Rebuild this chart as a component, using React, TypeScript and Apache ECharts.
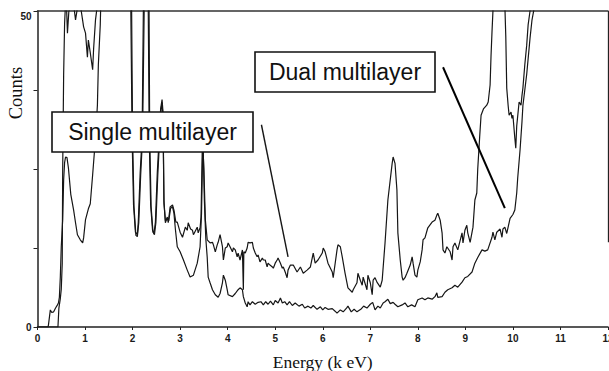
import React, { useEffect, useRef } from "react";
import * as echarts from "echarts";

// Upper-background spectrum ("Single multilayer")
const singleEnergy = [
  0, 0.43, 0.45, 0.48, 0.5, 0.52, 0.53, 0.55, 0.57, 0.6,
  0.63, 0.66, 0.69, 0.73, 0.76, 0.8, 0.84, 0.9, 0.97, 1.01,
  1.05, 1.07, 1.11, 1.16, 1.18, 1.22, 1.26, 1.3, 1.95, 1.99,
  2.02, 2.06, 2.1, 2.12, 2.16, 2.2, 2.24, 2.32, 2.35, 2.38,
  2.42, 2.45, 2.48, 2.52, 2.56, 2.59, 2.62, 2.64, 2.66, 2.69,
  2.73, 2.75, 2.79, 2.84, 2.87, 2.91, 2.94, 3.0, 3.05, 3.11,
  3.15, 3.17, 3.22, 3.26, 3.28, 3.32, 3.36, 3.38, 3.42, 3.44,
  3.47, 3.5, 3.53, 3.57, 3.63, 3.68, 3.7, 3.74, 3.78, 3.8,
  3.84, 3.89, 3.91, 3.95, 3.99, 4.01, 4.05, 4.1, 4.12, 4.16,
  4.2, 4.22, 4.26, 4.31, 4.33, 4.34, 4.37, 4.41, 4.43, 4.47,
  4.52, 4.54, 4.58, 4.62, 4.64, 4.68, 4.73, 4.75, 4.79, 4.83,
  4.85, 4.89, 4.94, 4.96, 5.0, 5.04, 5.06, 5.11, 5.15, 5.17,
  5.21, 5.25, 5.27, 5.32, 5.38, 5.46, 5.53, 5.59, 5.67, 5.74,
  5.8, 5.84, 5.9, 5.99, 6.01, 6.05, 6.11, 6.2, 6.22, 6.3,
  6.32, 6.37, 6.41, 6.47, 6.53, 6.62, 6.64, 6.72, 6.74, 6.79,
  6.83, 6.85, 6.93, 6.95, 7.0, 7.04, 7.06, 7.1, 7.14, 7.21,
  7.25, 7.31, 7.37, 7.46, 7.48, 7.52, 7.56, 7.58, 7.63, 7.67,
  7.69, 7.73, 7.77, 7.84, 7.88, 7.9, 7.94, 7.98, 8.0, 8.05,
  8.09, 8.11, 8.15, 8.21, 8.3, 8.36, 8.4, 8.42, 8.47, 8.51,
  8.53, 8.57, 8.61, 8.68, 8.72, 8.74, 8.78, 8.84, 8.93, 8.95,
  8.99, 9.03, 9.05, 9.1, 9.16, 9.2, 9.24, 9.26, 9.3, 9.33,
  9.38, 9.45, 9.48, 9.52, 9.54, 9.56, 9.58, 9.62, 9.75, 9.81,
  9.83, 9.85, 9.87, 9.9, 9.92, 9.96, 9.98, 10.0, 10.04, 10.06,
  10.08, 10.13, 10.17, 10.19, 10.21, 10.25, 10.29, 10.32, 10.36, 10.4,
  10.5,
];
const singleCounts = [
  0, 0, 3, 4.5, 6, 10, 25, 40, 48, 53,
  46.5, 50, 50.5, 52, 51, 48.6, 50.5, 51, 47.5, 46.5,
  42.7, 45.4, 43.4, 40.7, 44, 48.6, 51, 60, 60, 30,
  19.3, 15, 14.6, 16.6, 24.5, 30, 60, 60, 30, 19.3,
  15.3, 14.8, 16.6, 24.5, 30, 34.5, 36, 34, 20, 16.5,
  17.4, 16.5, 19.0, 19.3, 18.5, 16.6, 16.6, 15.0, 14.2, 15.8,
  15.3, 16.5, 15.5, 15.3, 14.6, 15.2, 15.8, 14.9, 15.7, 17.4,
  30, 25, 17, 13.8, 13.3, 13.4, 13.0, 11.9, 13.0, 13.4,
  14.6, 12.7, 10.6, 12.5, 12.7, 13.3, 12.7, 11.9, 12.5, 12.2,
  11.1, 11.7, 10.6, 12.2, 5.9, 11.9, 11.7, 12.5, 13.4, 13.3,
  13.4, 12.5, 11.7, 11.1, 11.4, 10.3, 10.9, 10.6, 10.6, 9.5,
  10.1, 9.8, 9.5, 9.3, 10.1, 10.6, 10.9, 10.1, 9.3, 9.5,
  8.7, 7.8, 9.0, 9.8, 9.8, 8.7, 9.5, 8.5, 9.0, 9.5,
  11.7, 10.1, 10.6, 11.7, 12.5, 11.9, 10.1, 8.7, 7.8, 12.2,
  13.0, 12.7, 11.1, 8.5, 6.2, 5.5, 5.9, 7.0, 8.5, 7.4,
  6.6, 7.9, 5.9, 8.2, 7.0, 5.1, 7.4, 7.8, 7.1, 6.3,
  7.4, 13.3, 20.1, 25.9, 26.9, 25.9, 21.7, 14.9, 10.6, 7.9,
  7.4, 7.8, 8.5, 9.8, 11.1, 10.1, 8.2, 7.9, 9.0, 10.3,
  12.2, 13.8, 14.1, 15.7, 16.6, 16.9, 17.7, 18.0, 16.9, 14.9,
  12.2, 11.7, 12.7, 11.9, 10.6, 12.7, 13.3, 12.2, 14.9, 13.3,
  15.3, 16.1, 14.9, 13.4, 15.8, 20.1, 21.2, 25, 30, 33.5,
  34.5, 35.1, 35.6, 38.3, 43, 46.7, 50, 56, 60, 56,
  51, 46, 37.8, 35, 33.5, 34, 33, 33.5, 29.9, 28.3,
  31.8, 35.6, 35.1, 36.6, 37.8, 41.5, 44.6, 47.8, 50, 56,
  60,
];

// Lower-background spectrum ("Dual multilayer")
const dualEnergy = [
  0, 0.22, 0.23, 0.27, 0.3, 0.34, 0.38, 0.42, 0.44, 0.46,
  0.48, 0.5, 0.53, 0.55, 0.57, 0.59, 0.62, 0.65, 0.7, 0.76,
  0.8, 0.84, 0.9, 0.95, 0.97, 1.01, 1.07, 1.11, 1.16, 1.22,
  1.26, 1.28, 1.32, 1.36, 1.97, 2.0, 2.03, 2.07, 2.1, 2.13,
  2.17, 2.21, 2.26, 2.34, 2.36, 2.39, 2.43, 2.46, 2.49, 2.53,
  2.57, 2.6, 2.62, 2.64, 2.66, 2.69, 2.73, 2.76, 2.8, 2.84,
  2.87, 2.9, 2.94, 3.0, 3.07, 3.15, 3.21, 3.28, 3.36, 3.42,
  3.45, 3.48, 3.51, 3.54, 3.57, 3.59, 3.63, 3.68, 3.74, 3.8,
  3.84, 3.89, 3.91, 3.95, 3.99, 4.01, 4.1, 4.16, 4.22, 4.26,
  4.31, 4.33, 4.37, 4.41, 4.43, 4.47, 4.52, 4.58, 4.64, 4.7,
  4.75, 4.8, 4.85, 4.9, 4.96, 5.0, 5.06, 5.11, 5.15, 5.2,
  5.25, 5.3, 5.36, 5.42, 5.5, 5.57, 5.62, 5.69, 5.75, 5.8,
  5.88, 5.95, 6.0, 6.05, 6.11, 6.2, 6.26, 6.3, 6.37, 6.43,
  6.5, 6.53, 6.6, 6.66, 6.72, 6.8, 6.86, 6.93, 7.0, 7.05,
  7.1, 7.16, 7.21, 7.27, 7.31, 7.37, 7.42, 7.48, 7.52, 7.58,
  7.67, 7.73, 7.79, 7.87, 7.94, 8.0, 8.09, 8.15, 8.21, 8.3,
  8.36, 8.4, 8.42, 8.51, 8.57, 8.63, 8.72, 8.78, 8.84, 8.93,
  8.99, 9.05, 9.14, 9.2, 9.26, 9.35, 9.41, 9.47, 9.56, 9.58,
  9.62, 9.66, 9.73, 9.77, 9.79, 9.83, 9.87, 9.94, 10.0, 10.04,
  10.08, 10.1, 10.15, 10.19, 10.21, 10.29, 10.36, 10.4, 10.46, 10.55,
];
const dualCounts = [
  0, 0, 0.3, 2.7, 2.3, 2.4, 3.0, 3.5, 3.8, 4.7,
  7.9, 12.7, 17, 23.3, 26, 26.9, 26.8, 25.2, 21, 18.5,
  16.5, 14.6, 13.8, 13.3, 14.1, 17.0, 18.7, 19.5, 24.1, 29.9,
  35.1, 41.5, 47.8, 60, 60, 30, 19, 14.5, 14.3, 16.5,
  24, 30, 60, 60, 30, 19, 15, 14.6, 16.5, 24,
  30, 34.5, 35.5, 33, 19.5, 16.8, 17.2, 16.8, 18.8, 19.0,
  18.0, 15.5, 12.7, 11.9, 10.6, 9.0, 7.9, 8.2, 10.1, 12.7,
  18, 30, 20, 14, 11, 7.9, 7.0, 5.9, 5.1, 4.7,
  5.3, 7.0, 8.2, 7.4, 5.9, 5.1, 4.8, 5.3, 5.9, 6.2,
  5.9, 4.8, 3.8, 3.2, 4.0, 3.5, 4.0, 3.6, 3.9, 4.0,
  3.5, 4.0, 3.6, 4.1, 3.5, 4.2, 3.8, 4.6, 3.8, 4.0,
  3.5, 4.0, 3.4, 3.8, 3.3, 3.6, 3.0, 3.3, 3.0, 3.4,
  2.8, 3.2, 2.7, 3.1, 2.8, 2.9, 2.5, 2.2, 2.7, 2.4,
  3.0, 3.3, 2.4, 2.8, 2.4, 2.8, 3.3, 3.0, 3.6, 3.9,
  2.7, 3.3, 3.0, 3.8, 4.0, 4.4, 3.7, 3.9, 3.6, 3.2,
  3.5, 3.8, 3.2, 3.5, 3.2, 4.3, 4.6, 4.3, 4.6, 4.4,
  4.8, 5.4, 4.7, 4.8, 5.5, 5.9, 6.2, 6.6, 6.3, 7.1,
  7.8, 8.0, 8.7, 10.1, 11.0, 12.2, 12.0, 12.2, 14.2, 15.0,
  13.8, 15.0, 15.5, 14.2, 15.5, 15.8, 14.8, 17.2, 17.8, 18.5,
  21.2, 23.5, 28, 32.4, 35, 40, 45.7, 48.5, 51, 60,
];

const seriesNames = ["Single multilayer", "Dual multilayer"];
const yLabelValues = [0, 50];

// Annotation pointer endpoints in data coordinates [energy, counts]
const singlePointer = [[4.71, 32.0], [5.27, 11.1]];
const dualPointer = [[8.53, 41.1], [9.83, 18.8]];
const rightEdge = [[12, 50], [12, 13.4]];

const pair = (xs: number[], ys: number[]) => xs.map((x, i) => [x, ys[i]]);

export default function App() {
  const ref = useRef<HTMLDivElement>(null);

  useEffect(() => {
    if (!ref.current) return;
    const chart = echarts.init(ref.current, null, { renderer: "svg" });
    const ink = "#161616";
    const tickFont = { fontFamily: "Liberation Sans", fontSize: 10, fontWeight: "bold" as const, color: "#1a1a1a" };

    chart.setOption({
      animation: false,
      backgroundColor: "#fff",
      grid: { left: 37.5, right: 1, top: 11, bottom: 44, outerBoundsMode: "none" },
      xAxis: [
        {
          type: "value",
          min: 0,
          max: 12,
          interval: 1,
          name: "Energy (k eV)",
          nameLocation: "middle",
          nameGap: 26,
          nameMoveOverlap: false,
          nameTextStyle: { fontFamily: "Liberation Serif", fontSize: 17.5, color: "#111" },
          axisLine: { show: true, onZero: false, lineStyle: { color: "#222", width: 1.5 } },
          axisTick: { show: true, length: 3, lineStyle: { color: "#222", width: 1 } },
          axisLabel: { ...tickFont, margin: 6, showMaxLabel: true, showMinLabel: true },
          splitLine: { show: false },
        },
        {
          type: "value",
          position: "top",
          min: 0,
          max: 12,
          axisLine: { show: true, onZero: false, lineStyle: { color: "#333", width: 1.5 } },
          axisTick: { show: false },
          axisLabel: { show: false },
          splitLine: { show: false },
        },
      ],
      yAxis: {
        type: "value",
        min: 0,
        max: 50,
        interval: 12.5,
        name: "Counts",
        nameLocation: "middle",
        nameGap: 12,
        nameRotate: 90,
        nameMoveOverlap: false,
        nameTextStyle: {
          fontFamily: "Liberation Serif",
          fontSize: 18.5,
          color: "#111",
          padding: [0, 0, 0, 152],
        },
        axisLine: { show: true, onZero: false, lineStyle: { color: "#222", width: 1.5 } },
        axisTick: { show: true, length: 4, lineStyle: { color: "#222", width: 1 } },
        axisLabel: {
          ...tickFont,
          margin: 6,
          formatter: (v: number) =>
            yLabelValues.includes(v) ? (v === 50 ? "{top|" + v + "}" : String(v)) : "",
          rich: { top: { ...tickFont, padding: [11, 0, 0, 0] } },
        },
        splitLine: { show: false },
      },
      series: [
        {
          name: seriesNames[0],
          type: "line",
          data: pair(singleEnergy, singleCounts),
          showSymbol: false,
          symbol: "none",
          clip: true,
          lineStyle: { color: ink, width: 1.2 },
          markLine: {
            silent: true,
            symbol: ["none", "none"],
            label: { show: false },
            data: [
              [
                { coord: singlePointer[0], lineStyle: { color: ink, width: 1.4, type: "solid" } },
                { coord: singlePointer[1] },
              ],
              [
                { coord: rightEdge[0], lineStyle: { color: "#222", width: 1.3, type: "solid" } },
                { coord: rightEdge[1] },
              ],
            ],
          },
        },
        {
          name: seriesNames[1],
          type: "line",
          data: pair(dualEnergy, dualCounts),
          showSymbol: false,
          symbol: "none",
          clip: true,
          lineStyle: { color: ink, width: 1.2 },
          markLine: {
            silent: true,
            symbol: ["none", "none"],
            label: { show: false },
            data: [
              [
                { coord: dualPointer[0], lineStyle: { color: "#000", width: 2, type: "solid" } },
                { coord: dualPointer[1] },
              ],
            ],
          },
        },
      ],
      graphic: [
        {
          type: "rect",
          z: 100,
          shape: { x: 52, y: 112, width: 201, height: 40 },
          style: { fill: "#fff", stroke: "#111", lineWidth: 1.6 },
        },
        {
          type: "text",
          z: 101,
          x: 152.5,
          y: 132,
          style: {
            text: seriesNames[0],
            fontFamily: "Liberation Sans",
            fontSize: 23,
            fill: "#111",
            align: "center",
            verticalAlign: "middle",
          },
        },
        {
          type: "rect",
          z: 100,
          shape: { x: 255, y: 52, width: 180, height: 40 },
          style: { fill: "#fff", stroke: "#111", lineWidth: 1.6 },
        },
        {
          type: "text",
          z: 101,
          x: 345,
          y: 72,
          style: {
            text: seriesNames[1],
            fontFamily: "Liberation Sans",
            fontSize: 23,
            fill: "#111",
            align: "center",
            verticalAlign: "middle",
          },
        },
      ],
    });

    return () => chart.dispose();
  }, []);

  return (
    <div
      ref={ref}
      style={{ position: "fixed", left: 0, top: 0, width: 609, height: 371, background: "#fff" }}
    />
  );
}
